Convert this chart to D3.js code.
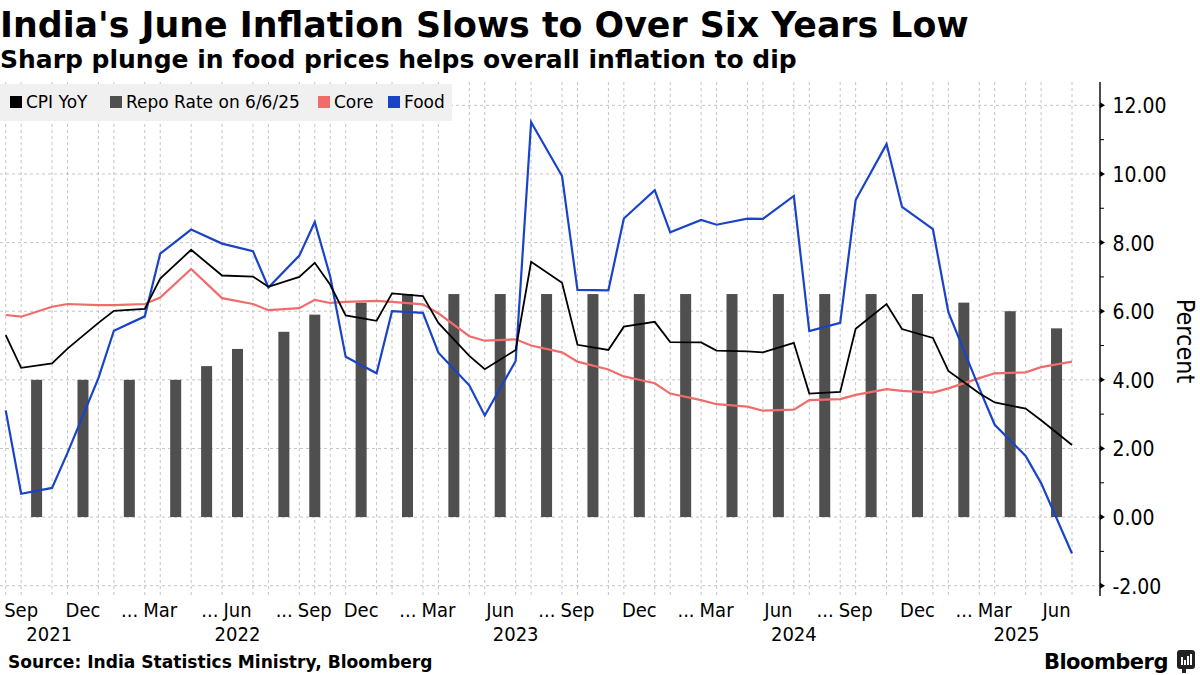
<!DOCTYPE html>
<html lang="en">
<head>
<meta charset="UTF-8">
<title>India's June Inflation</title>
<script src="https://d3js.org/d3.v7.min.js"></script>
<style>
  body { margin: 0; background: #fff; }
  svg { display: block; }
  text { font-family: "DejaVu Sans", sans-serif; fill: #000; }
  .grid line { stroke: #c4c4c4; stroke-width: 1; stroke-dasharray: 3 3; }
</style>
</head>
<body>
<svg width="1200" height="675"></svg>
<script>
// monthly CPI readings, Aug 2021 .. Jun 2025
var cpiMonths = ["2021-08","2021-09","2021-10","2021-11","2021-12",
  "2022-01","2022-02","2022-03","2022-04","2022-05","2022-06","2022-07","2022-08","2022-09","2022-10","2022-11","2022-12",
  "2023-01","2023-02","2023-03","2023-04","2023-05","2023-06","2023-07","2023-08","2023-09","2023-10","2023-11","2023-12",
  "2024-01","2024-02","2024-03","2024-04","2024-05","2024-06","2024-07","2024-08","2024-09","2024-10","2024-11","2024-12",
  "2025-01","2025-02","2025-03","2025-04","2025-05","2025-06"];
var cpiYoY = [5.30,4.35,4.48,4.91,5.66,
  6.01,6.07,6.95,7.79,7.04,7.01,6.71,7.00,7.41,6.77,5.88,5.72,
  6.52,6.44,5.66,4.70,4.31,4.87,7.44,6.83,5.02,4.87,5.55,5.69,
  5.10,5.09,4.85,4.83,4.80,5.08,3.60,3.65,5.49,6.21,5.48,5.22,
  4.26,3.61,3.34,3.16,2.82,2.10];
var core = [5.89,5.84,6.13,6.21,6.18,
  6.18,6.21,6.40,7.23,6.38,6.21,6.03,6.09,6.33,6.24,6.27,6.30,
  6.27,6.20,5.94,5.27,5.14,5.18,5.00,4.80,4.53,4.30,4.10,3.90,
  3.60,3.41,3.29,3.22,3.10,3.13,3.41,3.44,3.56,3.73,3.68,3.63,
  3.75,4.05,4.19,4.22,4.37,4.53];
var food = [3.11,0.68,0.85,1.87,4.05,
  5.43,5.85,7.68,8.38,7.97,7.75,6.69,7.62,8.60,7.01,4.67,4.19,
  6.00,5.95,4.79,3.84,2.96,4.55,11.51,9.94,6.62,6.61,8.70,9.53,
  8.30,8.66,8.52,8.70,8.69,9.36,5.42,5.66,9.24,10.87,9.04,8.39,
  5.97,3.75,2.69,1.78,0.99,-1.06];

// RBI policy decisions
var repoDates = ["2021-10-08","2021-12-08","2022-02-10","2022-04-08","2022-05-04","2022-06-08",
  "2022-08-05","2022-09-30","2022-12-07","2023-02-08","2023-04-06","2023-06-08","2023-08-10",
  "2023-10-06","2023-12-08","2024-02-08","2024-04-05","2024-06-07","2024-08-08","2024-10-09",
  "2024-12-06","2025-02-07","2025-04-09","2025-06-06"];
var repoRate = [4.00,4.00,4.00,4.00,4.40,4.90,5.40,5.90,6.25,6.50,6.50,6.50,6.50,
  6.50,6.50,6.50,6.50,6.50,6.50,6.50,6.50,6.25,6.00,5.50];

var tickMonths = ["2021-09","2021-12","2022-03","2022-06","2022-09","2022-12","2023-03","2023-06",
  "2023-09","2023-12","2024-03","2024-06","2024-09","2024-12","2025-03","2025-06"];
var tickText = ["Sep","Dec","... Mar","... Jun","... Sep","Dec","... Mar","Jun",
  "... Sep","Dec","... Mar","Jun","... Sep","Dec","... Mar","Jun"];
var years = ["2021","2022","2023","2024","2025"];
var yTicks = [12,10,8,6,4,2,0,-2];

// CPI points sit on month end
function monthEnd(m) {
  var p = m.split("-");
  var d = new Date(Date.UTC(+p[0], +p[1], 0));
  return d.toISOString().slice(0, 10);
}
var cpiDates = cpiMonths.map(monthEnd);
var cats = Array.from(new Set(cpiDates.concat(repoDates))).sort();

var svg = d3.select("svg");
var plotTop = 82, plotBottom = 596, plotRight = 1100;
var squeeze = 0.9; // condensed look for axis text

var x = d3.scalePoint().domain(cats).range([5.7, 1072]);
var y = d3.scaleLinear().domain([-2.3, 12.68]).range([plotBottom, plotTop]);

function narrowText(g, px, py, str, size, anchor) {
  return g.append("text")
    .attr("transform", "translate(" + px + "," + py + ") scale(" + squeeze + ",1)")
    .attr("text-anchor", anchor).attr("font-size", size).text(str);
}

// grid
var grid = svg.append("g").attr("class", "grid");
grid.selectAll(".h").data(yTicks).join("line")
  .attr("x1", 0).attr("x2", plotRight)
  .attr("y1", function(d) { return y(d); }).attr("y2", function(d) { return y(d); });
grid.selectAll(".v").data(cpiDates).join("line")
  .attr("x1", function(d) { return x(d); }).attr("x2", function(d) { return x(d); })
  .attr("y1", plotTop).attr("y2", plotBottom);

// repo bars
svg.append("g").selectAll("rect").data(repoDates).join("rect")
  .attr("x", function(d) { return x(d) - 5.5; })
  .attr("width", 11)
  .attr("y", function(d, i) { return y(repoRate[i]); })
  .attr("height", function(d, i) { return y(0) - y(repoRate[i]); })
  .attr("fill", "#4f4f4f");

// lines
var line = d3.line()
  .x(function(d) { return x(d[0]); })
  .y(function(d) { return y(d[1]); });
function series(vals) { return cpiDates.map(function(d, i) { return [d, vals[i]]; }); }

[[core, "#f26b6b", 2.2], [food, "#1a44c8", 2.2], [cpiYoY, "#000000", 1.8]].forEach(function(s) {
  svg.append("path").datum(series(s[0]))
    .attr("d", line).attr("fill", "none")
    .attr("stroke", s[1]).attr("stroke-width", s[2])
    .attr("stroke-linejoin", "miter");
});

// right axis
var yAxis = svg.append("g").attr("transform", "translate(" + plotRight + ",0)");
yAxis.append("line").attr("x1", 0).attr("x2", 0).attr("y1", plotTop).attr("y2", plotBottom)
  .attr("stroke", "#000").attr("stroke-width", 1.4);
yAxis.selectAll(".major").data(yTicks).join("path")
  .attr("d", function(d) { return "M0," + (y(d) - 3) + "L5," + y(d) + "L0," + (y(d) + 3) + "Z"; })
  .attr("fill", "#000");
yAxis.selectAll(".minor").data(d3.range(-1, 13, 2)).join("line")
  .attr("x1", 0).attr("x2", 4)
  .attr("y1", function(d) { return y(d); }).attr("y2", function(d) { return y(d); })
  .attr("stroke", "#000");
yTicks.forEach(function(d) {
  narrowText(yAxis, 12.5, y(d) + 8, d3.format(".2f")(d).replace("\u2212", "-"), 21, "start");
});
svg.append("text")
  .attr("transform", "translate(1177,341) rotate(90) scale(" + squeeze + ",1)")
  .attr("text-anchor", "middle").attr("font-size", 25)
  .text("Percent");

// x labels: first category falling in the month
var xl = svg.append("g");
tickMonths.forEach(function(m, i) {
  var c = cats.find(function(d) { return d.slice(0, 7) === m; });
  var txt = tickText[i];
  var name = txt.replace("... ", "");
  var t = narrowText(xl, x(c), 617, name, 20, "middle");
  if (txt.indexOf("...") === 0) {
    var w = t.node().getComputedTextLength() * squeeze;
    narrowText(xl, x(c) - w / 2 - 5, 617, "...", 20, "end");
  }
});
// year label centred on the span that year covers
var prevEnd = 0;
years.forEach(function(yr, i) {
  var inYear = cats.filter(function(d) { return d.slice(0, 4) === yr; });
  var end = i === years.length - 1 ? plotRight : x(inYear[inYear.length - 1]);
  narrowText(xl, (prevEnd + end) / 2, 641, yr, 20, "middle");
  prevEnd = end;
});

// legend
var lg = svg.append("g");
lg.append("rect").attr("x", 0).attr("y", 84).attr("width", 452).attr("height", 37).attr("fill", "#f0f0f0");
var legendItems = [["CPI YoY", "#000000", 10], ["Repo Rate on 6/6/25", "#4f4f4f", 110],
  ["Core", "#f26b6b", 318], ["Food", "#1a44c8", 388]];
legendItems.forEach(function(it) {
  lg.append("rect").attr("x", it[2]).attr("y", 96).attr("width", 12).attr("height", 12).attr("fill", it[1]);
  lg.append("text").attr("x", it[2] + 16).attr("y", 108).attr("font-size", 17).text(it[0]);
});

// titles
svg.append("text").attr("x", 0).attr("y", 37).attr("font-size", 34.8).attr("font-weight", "bold")
  .text("India's June Inflation Slows to Over Six Years Low");
svg.append("text").attr("x", 0).attr("y", 68).attr("font-size", 25).attr("font-weight", "bold")
  .text("Sharp plunge in food prices helps overall inflation to dip");
svg.append("text").attr("x", 8).attr("y", 668).attr("font-size", 17.1).attr("font-weight", "bold")
  .text("Source: India Statistics Ministry, Bloomberg");

// Bloomberg mark
svg.append("text").attr("x", 1168).attr("y", 669).attr("text-anchor", "end")
  .attr("font-family", "Inter, Roboto, sans-serif").attr("font-size", 21).attr("font-weight", "bold")
  .attr("letter-spacing", -0.5).text("Bloomberg");
var logo = svg.append("g").attr("transform", "translate(1177,650)");
logo.append("rect").attr("width", 18).attr("height", 19).attr("rx", 3).attr("fill", "#222");
logo.append("rect").attr("x", 5).attr("y", 19).attr("width", 4).attr("height", 4).attr("fill", "#222");
[[4, 8], [7, 5], [10, 9], [13, 11]].forEach(function(b) {
  logo.append("rect").attr("x", b[0]).attr("y", 15 - b[1]).attr("width", 2).attr("height", b[1]).attr("fill", "#fff");
});
</script>
</body>
</html>
